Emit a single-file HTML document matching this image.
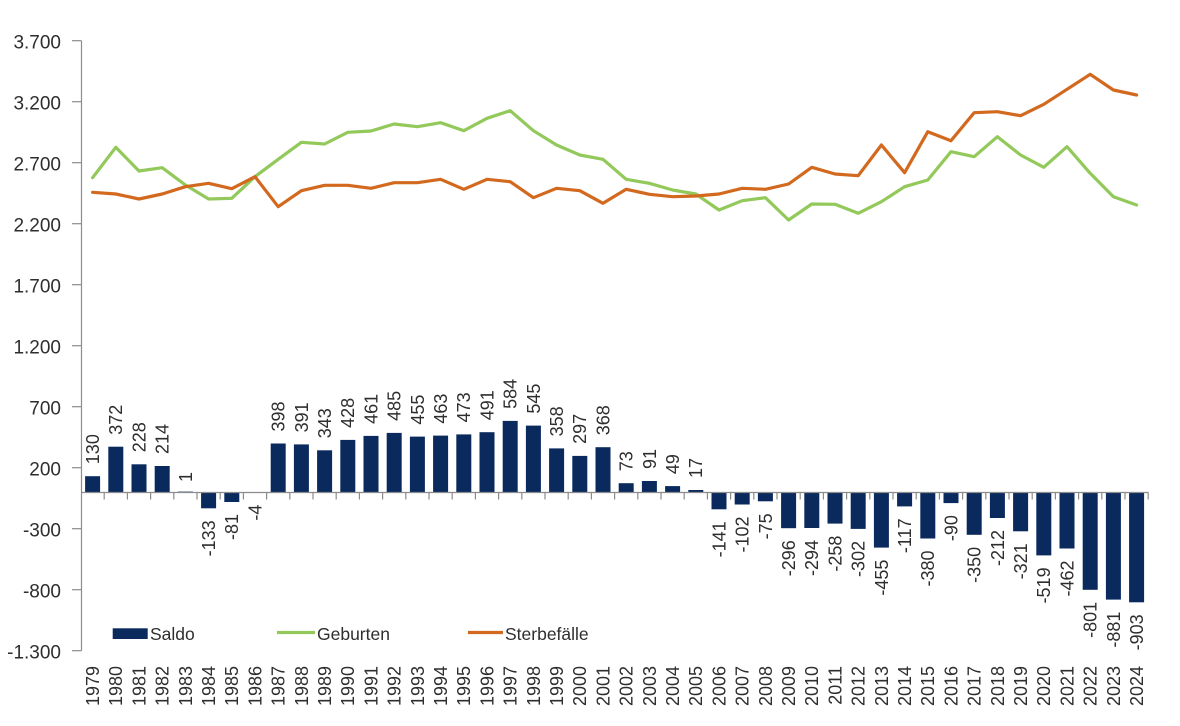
<!DOCTYPE html>
<html>
<head>
<meta charset="utf-8">
<style>
  html, body { margin: 0; padding: 0; background: #ffffff; }
  svg { display: block; }
  text { font-family: "Liberation Sans", "DejaVu Sans", sans-serif; fill: #2e2e2e; }
  .yl { font-size: 19px; text-anchor: end; }
  .dl { font-size: 18px; }
  .yr { font-size: 18px; text-anchor: end; }
  .lg { font-size: 17.5px; }
</style>
</head>
<body>
<svg width="1180" height="726" viewBox="0 0 1180 726" xmlns="http://www.w3.org/2000/svg">
  <rect x="0" y="0" width="1180" height="726" fill="#ffffff"/>

  <!-- Y axis -->
  <g stroke="#8c8c8c" stroke-width="1.2" fill="none">
    <line x1="81.5" y1="40.7" x2="81.5" y2="650.7"/>
    <line x1="72" y1="40.7" x2="81.5" y2="40.7"/>
    <line x1="72" y1="101.7" x2="81.5" y2="101.7"/>
    <line x1="72" y1="162.7" x2="81.5" y2="162.7"/>
    <line x1="72" y1="223.7" x2="81.5" y2="223.7"/>
    <line x1="72" y1="284.7" x2="81.5" y2="284.7"/>
    <line x1="72" y1="345.7" x2="81.5" y2="345.7"/>
    <line x1="72" y1="406.7" x2="81.5" y2="406.7"/>
    <line x1="72" y1="467.7" x2="81.5" y2="467.7"/>
    <line x1="72" y1="528.7" x2="81.5" y2="528.7"/>
    <line x1="72" y1="589.7" x2="81.5" y2="589.7"/>
    <line x1="72" y1="650.7" x2="81.5" y2="650.7"/>
  </g>
  <g>
    <text class="yl" x="61" y="48.7">3.700</text>
    <text class="yl" x="61" y="109.7">3.200</text>
    <text class="yl" x="61" y="170.7">2.700</text>
    <text class="yl" x="61" y="231.7">2.200</text>
    <text class="yl" x="61" y="292.7">1.700</text>
    <text class="yl" x="61" y="353.7">1.200</text>
    <text class="yl" x="61" y="414.7">700</text>
    <text class="yl" x="61" y="475.7">200</text>
    <text class="yl" x="61" y="536.7">-300</text>
    <text class="yl" x="61" y="597.7">-800</text>
    <text class="yl" x="61" y="658.7">-1.300</text>
  </g>

  <!-- Bars (Saldo) -->
  <g fill="#0a2a5e">
    <rect x="85.1" y="476.2" width="15" height="15.9"/>
    <rect x="108.3" y="446.7" width="15" height="45.4"/>
    <rect x="131.5" y="464.3" width="15" height="27.8"/>
    <rect x="154.7" y="466.0" width="15" height="26.1"/>
    <rect x="177.9" y="491.6" width="15" height="0.5"/>
    <rect x="201.1" y="492.1" width="15" height="16.2"/>
    <rect x="224.3" y="492.1" width="15" height="9.9"/>
    <rect x="247.5" y="492.1" width="15" height="0.6"/>
    <rect x="270.7" y="443.5" width="15" height="48.6"/>
    <rect x="293.9" y="444.4" width="15" height="47.7"/>
    <rect x="317.1" y="450.3" width="15" height="41.8"/>
    <rect x="340.3" y="439.9" width="15" height="52.2"/>
    <rect x="363.5" y="435.9" width="15" height="56.2"/>
    <rect x="386.7" y="432.9" width="15" height="59.2"/>
    <rect x="409.9" y="436.6" width="15" height="55.5"/>
    <rect x="433.1" y="435.6" width="15" height="56.5"/>
    <rect x="456.3" y="434.4" width="15" height="57.7"/>
    <rect x="479.5" y="432.2" width="15" height="59.9"/>
    <rect x="502.7" y="420.9" width="15" height="71.2"/>
    <rect x="525.9" y="425.6" width="15" height="66.5"/>
    <rect x="549.1" y="448.4" width="15" height="43.7"/>
    <rect x="572.3" y="455.9" width="15" height="36.2"/>
    <rect x="595.5" y="447.2" width="15" height="44.9"/>
    <rect x="618.7" y="483.2" width="15" height="8.9"/>
    <rect x="641.9" y="481.0" width="15" height="11.1"/>
    <rect x="665.1" y="486.1" width="15" height="6.0"/>
    <rect x="688.3" y="490.0" width="15" height="2.1"/>
    <rect x="711.5" y="492.1" width="15" height="17.2"/>
    <rect x="734.7" y="492.1" width="15" height="12.4"/>
    <rect x="757.9" y="492.1" width="15" height="9.2"/>
    <rect x="781.1" y="492.1" width="15" height="36.1"/>
    <rect x="804.3" y="492.1" width="15" height="35.9"/>
    <rect x="827.5" y="492.1" width="15" height="31.5"/>
    <rect x="850.7" y="492.1" width="15" height="36.8"/>
    <rect x="873.9" y="492.1" width="15" height="55.5"/>
    <rect x="897.1" y="492.1" width="15" height="14.3"/>
    <rect x="920.3" y="492.1" width="15" height="46.4"/>
    <rect x="943.5" y="492.1" width="15" height="11.0"/>
    <rect x="966.7" y="492.1" width="15" height="42.7"/>
    <rect x="989.9" y="492.1" width="15" height="25.9"/>
    <rect x="1013.1" y="492.1" width="15" height="39.2"/>
    <rect x="1036.3" y="492.1" width="15" height="63.3"/>
    <rect x="1059.5" y="492.1" width="15" height="56.4"/>
    <rect x="1082.7" y="492.1" width="15" height="97.7"/>
    <rect x="1105.9" y="492.1" width="15" height="107.5"/>
    <rect x="1129.1" y="492.1" width="15" height="110.2"/>
  </g>

  <!-- X axis -->
  <g stroke="#8c8c8c" stroke-width="1.2" fill="none">
    <line x1="81" y1="492.5" x2="1148.5" y2="492.5"/>
    <path d="M104.2 492.5v7 M127.4 492.5v7 M150.6 492.5v7 M173.8 492.5v7 M197 492.5v7 M220.2 492.5v7 M243.4 492.5v7 M266.6 492.5v7 M289.8 492.5v7 M313 492.5v7 M336.2 492.5v7 M359.4 492.5v7 M382.6 492.5v7 M405.8 492.5v7 M429 492.5v7 M452.2 492.5v7 M475.4 492.5v7 M498.6 492.5v7 M521.8 492.5v7 M545 492.5v7 M568.2 492.5v7 M591.4 492.5v7 M614.6 492.5v7 M637.8 492.5v7 M661 492.5v7 M684.2 492.5v7 M707.4 492.5v7 M730.6 492.5v7 M753.8 492.5v7 M777 492.5v7 M800.2 492.5v7 M823.4 492.5v7 M846.6 492.5v7 M869.8 492.5v7 M893 492.5v7 M916.2 492.5v7 M939.4 492.5v7 M962.6 492.5v7 M985.8 492.5v7 M1009 492.5v7 M1032.2 492.5v7 M1055.4 492.5v7 M1078.6 492.5v7 M1101.8 492.5v7 M1125 492.5v7 M1148.2 492.5v7"/>
  </g>

  <!-- Lines -->
  <polyline fill="none" stroke="#92c95a" stroke-width="3.2" stroke-linejoin="round" stroke-linecap="round"
    points="92.6,177.7 115.8,147.3 139,171 162.2,167.7 185.4,185 208.6,199 231.8,198.3 255,176.7 278.2,159.3 301.4,142.3 324.6,144 347.8,132.3 371,131 394.2,124 417.4,126.7 440.6,122.7 463.8,130.7 487,118.3 510.2,110.7 533.4,130.7 556.6,145 579.8,155 603,159.3 626.2,179.3 649.4,183.3 672.6,190 695.8,194 719,210 742.2,200.7 765.4,197.7 788.6,220 811.8,204 835,204.3 858.2,213.3 881.4,201.7 904.6,186.7 927.8,180 951,151.7 974.2,156.7 997.4,136.7 1020.6,155 1043.8,167.3 1067,146.7 1090.2,173.3 1113.4,196.7 1136.6,205"/>
  <polyline fill="none" stroke="#d2691f" stroke-width="3.2" stroke-linejoin="round" stroke-linecap="round"
    points="92.6,192.3 115.8,194 139,199 162.2,194 185.4,186.7 208.6,183.3 231.8,188.7 255,176.7 278.2,206.7 301.4,190.7 324.6,185.3 347.8,185.3 371,188.3 394.2,182.7 417.4,182.7 440.6,179.3 463.8,189.3 487,179.3 510.2,181.7 533.4,197.7 556.6,188.3 579.8,190.7 603,203.3 626.2,189.3 649.4,194.3 672.6,196.7 695.8,196 719,194 742.2,188.3 765.4,189.3 788.6,184 811.8,167.3 835,174 858.2,175.7 881.4,145 904.6,172.7 927.8,131.7 951,140.7 974.2,112.7 997.4,111.7 1020.6,115.7 1043.8,104.3 1067,89.3 1090.2,74.3 1113.4,90 1136.6,95"/>

  <!-- Data labels: positive (anchor start) -->
  <g class="dl" text-anchor="start">
    <text x="99" y="464.2" transform="rotate(-90 99 464.2)">130</text>
    <text x="122.2" y="434.7" transform="rotate(-90 122.2 434.7)">372</text>
    <text x="145.4" y="452.3" transform="rotate(-90 145.4 452.3)">228</text>
    <text x="168.6" y="454.0" transform="rotate(-90 168.6 454.0)">214</text>
    <text x="191.8" y="482.0" transform="rotate(-90 191.8 482.0)">1</text>
    <text x="284.6" y="431.5" transform="rotate(-90 284.6 431.5)">398</text>
    <text x="307.8" y="432.4" transform="rotate(-90 307.8 432.4)">391</text>
    <text x="331.0" y="438.3" transform="rotate(-90 331.0 438.3)">343</text>
    <text x="354.2" y="427.9" transform="rotate(-90 354.2 427.9)">428</text>
    <text x="377.4" y="423.9" transform="rotate(-90 377.4 423.9)">461</text>
    <text x="400.6" y="420.9" transform="rotate(-90 400.6 420.9)">485</text>
    <text x="423.8" y="424.6" transform="rotate(-90 423.8 424.6)">455</text>
    <text x="447.0" y="423.6" transform="rotate(-90 447.0 423.6)">463</text>
    <text x="470.2" y="422.4" transform="rotate(-90 470.2 422.4)">473</text>
    <text x="493.4" y="420.2" transform="rotate(-90 493.4 420.2)">491</text>
    <text x="516.6" y="408.9" transform="rotate(-90 516.6 408.9)">584</text>
    <text x="539.8" y="413.6" transform="rotate(-90 539.8 413.6)">545</text>
    <text x="563.0" y="436.4" transform="rotate(-90 563.0 436.4)">358</text>
    <text x="586.2" y="443.9" transform="rotate(-90 586.2 443.9)">297</text>
    <text x="609.4" y="435.2" transform="rotate(-90 609.4 435.2)">368</text>
    <text x="632.6" y="471.2" transform="rotate(-90 632.6 471.2)">73</text>
    <text x="655.8" y="469.0" transform="rotate(-90 655.8 469.0)">91</text>
    <text x="679.0" y="474.1" transform="rotate(-90 679.0 474.1)">49</text>
    <text x="702.2" y="478.0" transform="rotate(-90 702.2 478.0)">17</text>
  </g>
  <!-- Data labels: negative (anchor end) -->
  <g class="dl" text-anchor="end">
    <text x="215.0" y="520.3" transform="rotate(-90 215.0 520.3)">-133</text>
    <text x="238.2" y="514.0" transform="rotate(-90 238.2 514.0)">-81</text>
    <text x="261.4" y="504.6" transform="rotate(-90 261.4 504.6)">-4</text>
    <text x="725.4" y="521.3" transform="rotate(-90 725.4 521.3)">-141</text>
    <text x="748.6" y="516.5" transform="rotate(-90 748.6 516.5)">-102</text>
    <text x="771.8" y="513.3" transform="rotate(-90 771.8 513.3)">-75</text>
    <text x="795.0" y="540.2" transform="rotate(-90 795.0 540.2)">-296</text>
    <text x="818.2" y="540.0" transform="rotate(-90 818.2 540.0)">-294</text>
    <text x="841.4" y="535.6" transform="rotate(-90 841.4 535.6)">-258</text>
    <text x="864.6" y="540.9" transform="rotate(-90 864.6 540.9)">-302</text>
    <text x="887.8" y="559.6" transform="rotate(-90 887.8 559.6)">-455</text>
    <text x="911.0" y="518.4" transform="rotate(-90 911.0 518.4)">-117</text>
    <text x="934.2" y="550.5" transform="rotate(-90 934.2 550.5)">-380</text>
    <text x="957.4" y="515.1" transform="rotate(-90 957.4 515.1)">-90</text>
    <text x="980.6" y="546.8" transform="rotate(-90 980.6 546.8)">-350</text>
    <text x="1003.8" y="530.0" transform="rotate(-90 1003.8 530.0)">-212</text>
    <text x="1027.0" y="543.3" transform="rotate(-90 1027.0 543.3)">-321</text>
    <text x="1050.2" y="567.4" transform="rotate(-90 1050.2 567.4)">-519</text>
    <text x="1073.4" y="560.5" transform="rotate(-90 1073.4 560.5)">-462</text>
    <text x="1096.6" y="601.8" transform="rotate(-90 1096.6 601.8)">-801</text>
    <text x="1119.8" y="611.6" transform="rotate(-90 1119.8 611.6)">-881</text>
    <text x="1143.0" y="614.3" transform="rotate(-90 1143.0 614.3)">-903</text>
  </g>

  <!-- Year labels -->
  <g class="yr">
    <text x="99" y="666" transform="rotate(-90 99 666)">1979</text>
    <text x="122.2" y="666" transform="rotate(-90 122.2 666)">1980</text>
    <text x="145.4" y="666" transform="rotate(-90 145.4 666)">1981</text>
    <text x="168.6" y="666" transform="rotate(-90 168.6 666)">1982</text>
    <text x="191.8" y="666" transform="rotate(-90 191.8 666)">1983</text>
    <text x="215.0" y="666" transform="rotate(-90 215.0 666)">1984</text>
    <text x="238.2" y="666" transform="rotate(-90 238.2 666)">1985</text>
    <text x="261.4" y="666" transform="rotate(-90 261.4 666)">1986</text>
    <text x="284.6" y="666" transform="rotate(-90 284.6 666)">1987</text>
    <text x="307.8" y="666" transform="rotate(-90 307.8 666)">1988</text>
    <text x="331.0" y="666" transform="rotate(-90 331.0 666)">1989</text>
    <text x="354.2" y="666" transform="rotate(-90 354.2 666)">1990</text>
    <text x="377.4" y="666" transform="rotate(-90 377.4 666)">1991</text>
    <text x="400.6" y="666" transform="rotate(-90 400.6 666)">1992</text>
    <text x="423.8" y="666" transform="rotate(-90 423.8 666)">1993</text>
    <text x="447.0" y="666" transform="rotate(-90 447.0 666)">1994</text>
    <text x="470.2" y="666" transform="rotate(-90 470.2 666)">1995</text>
    <text x="493.4" y="666" transform="rotate(-90 493.4 666)">1996</text>
    <text x="516.6" y="666" transform="rotate(-90 516.6 666)">1997</text>
    <text x="539.8" y="666" transform="rotate(-90 539.8 666)">1998</text>
    <text x="563.0" y="666" transform="rotate(-90 563.0 666)">1999</text>
    <text x="586.2" y="666" transform="rotate(-90 586.2 666)">2000</text>
    <text x="609.4" y="666" transform="rotate(-90 609.4 666)">2001</text>
    <text x="632.6" y="666" transform="rotate(-90 632.6 666)">2002</text>
    <text x="655.8" y="666" transform="rotate(-90 655.8 666)">2003</text>
    <text x="679.0" y="666" transform="rotate(-90 679.0 666)">2004</text>
    <text x="702.2" y="666" transform="rotate(-90 702.2 666)">2005</text>
    <text x="725.4" y="666" transform="rotate(-90 725.4 666)">2006</text>
    <text x="748.6" y="666" transform="rotate(-90 748.6 666)">2007</text>
    <text x="771.8" y="666" transform="rotate(-90 771.8 666)">2008</text>
    <text x="795.0" y="666" transform="rotate(-90 795.0 666)">2009</text>
    <text x="818.2" y="666" transform="rotate(-90 818.2 666)">2010</text>
    <text x="841.4" y="666" transform="rotate(-90 841.4 666)">2011</text>
    <text x="864.6" y="666" transform="rotate(-90 864.6 666)">2012</text>
    <text x="887.8" y="666" transform="rotate(-90 887.8 666)">2013</text>
    <text x="911.0" y="666" transform="rotate(-90 911.0 666)">2014</text>
    <text x="934.2" y="666" transform="rotate(-90 934.2 666)">2015</text>
    <text x="957.4" y="666" transform="rotate(-90 957.4 666)">2016</text>
    <text x="980.6" y="666" transform="rotate(-90 980.6 666)">2017</text>
    <text x="1003.8" y="666" transform="rotate(-90 1003.8 666)">2018</text>
    <text x="1027.0" y="666" transform="rotate(-90 1027.0 666)">2019</text>
    <text x="1050.2" y="666" transform="rotate(-90 1050.2 666)">2020</text>
    <text x="1073.4" y="666" transform="rotate(-90 1073.4 666)">2021</text>
    <text x="1096.6" y="666" transform="rotate(-90 1096.6 666)">2022</text>
    <text x="1119.8" y="666" transform="rotate(-90 1119.8 666)">2023</text>
    <text x="1143.0" y="666" transform="rotate(-90 1143.0 666)">2024</text>
  </g>

  <!-- Legend -->
  <rect x="112.7" y="628.3" width="35" height="10.7" fill="#0a2a5e"/>
  <text class="lg" x="150" y="640">Saldo</text>
  <line x1="277" y1="632.5" x2="315" y2="632.5" stroke="#92c95a" stroke-width="3.2"/>
  <text class="lg" x="317" y="640">Geburten</text>
  <line x1="468" y1="632.5" x2="503" y2="632.5" stroke="#d2691f" stroke-width="3.2"/>
  <text class="lg" x="505" y="640">Sterbefälle</text>
</svg>
</body>
</html>
